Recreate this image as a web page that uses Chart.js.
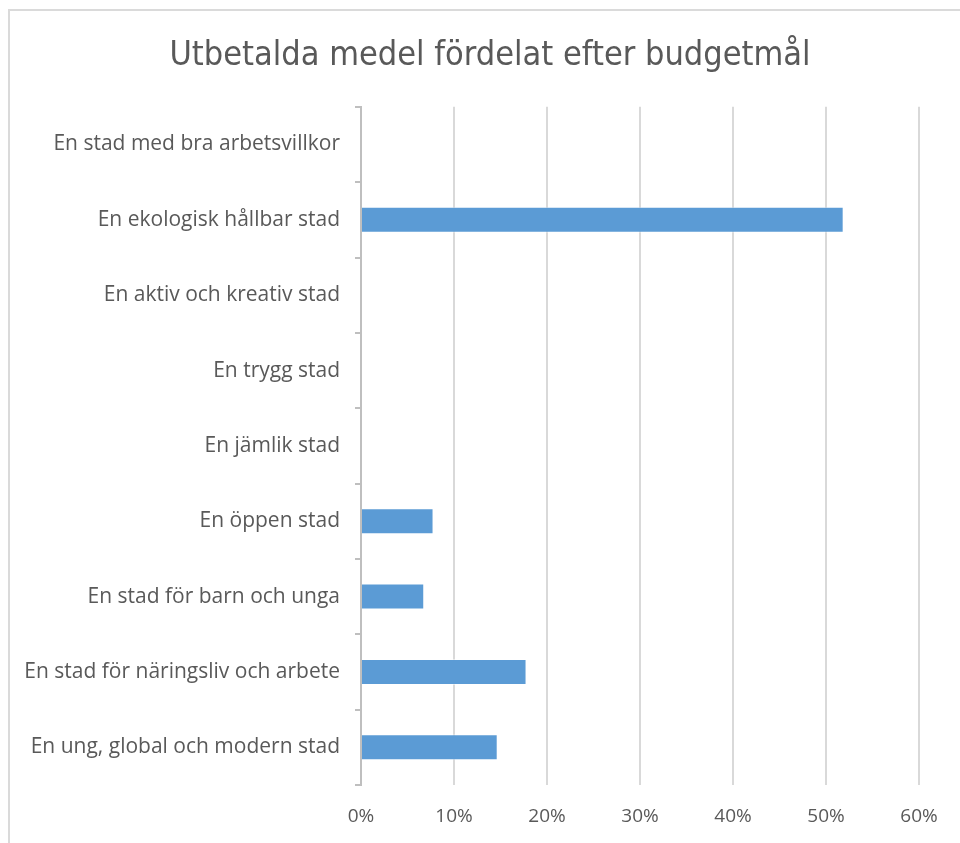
<!DOCTYPE html>
<html>
<head>
<meta charset="utf-8">
<script src="https://cdn.jsdelivr.net/npm/chart.js@4/dist/chart.umd.min.js"></script>
<style>
  html, body { margin: 0; padding: 0; background: #fff; overflow: hidden; }
  #frame { position: absolute; left: 8px; top: 9px; width: 1000px; height: 1000px;
           border-top: 2px solid #dadada; border-left: 2px solid #dadada; }
  #wrap { position: absolute; left: 0; top: 0; width: 960px; height: 843px; }
</style>
</head>
<body>
<div id="frame"></div>
<div id="wrap"><canvas id="chart" width="960" height="843"></canvas></div>
<script>
// Budgetmål, top to bottom as in the picture
var categories = [
  'En stad med bra arbetsvillkor',
  'En ekologisk hållbar stad',
  'En aktiv och kreativ stad',
  'En trygg stad',
  'En jämlik stad',
  'En öppen stad',
  'En stad för barn och unga',
  'En stad för näringsliv och arbete',
  'En ung, global och modern stad'
];
// share of paid funds, in %
var shares = [0, 51.9, 0, 0, 0, 7.8, 6.8, 17.8, 14.7];
var xTicks = [0, 10, 20, 30, 40, 50, 60];

var grey = '#595959';
var labelFont = 'Open Sans';

new Chart(document.getElementById('chart'), {
  type: 'bar',
  data: {
    labels: categories,
    datasets: [{
      data: shares,
      backgroundColor: '#5b9bd5',
      borderColor: 'rgba(255,255,255,0.5)',
      borderWidth: 1,
      categoryPercentage: 1,
      barPercentage: 0.345
    }]
  },
  options: {
    indexAxis: 'y',
    responsive: false,
    animation: false,
    layout: { padding: { left: 20, right: 0, top: 0, bottom: 0 } },
    plugins: {
      legend: { display: false },
      tooltip: { enabled: false },
      title: {
        display: true,
        text: 'Utbetalda medel fördelat efter budgetmål',
        color: grey,
        font: { family: 'DejaVu Sans Condensed, sans-serif', size: 34, weight: '300', lineHeight: 1.2 },
        padding: { top: 36, bottom: 30 }
      }
    },
    scales: {
      x: {
        min: 0, max: 60,
        afterBuildTicks: function (s) { s.ticks = xTicks.map(function (v) { return { value: v }; }); },
        afterFit: function (s) { s.height = 58; s.paddingRight = 41; },
        border: { display: false },
        grid: { color: '#d9d9d9', lineWidth: 2, drawTicks: false },
        ticks: {
          color: grey, padding: 20,
          font: { family: labelFont, size: 19 },
          callback: function (v) { return v + '%'; }
        }
      },
      y: {
        afterFit: function (s) { s.width = 341; },
        border: { display: true, color: '#bfbfbf', width: 2 },
        grid: { offset: true, drawOnChartArea: false, drawTicks: true, tickLength: 6, color: '#bfbfbf', lineWidth: 2 },
        ticks: { color: grey, padding: 15, font: { family: labelFont, size: 21 } }
      }
    }
  }
});
</script>
</body>
</html>
